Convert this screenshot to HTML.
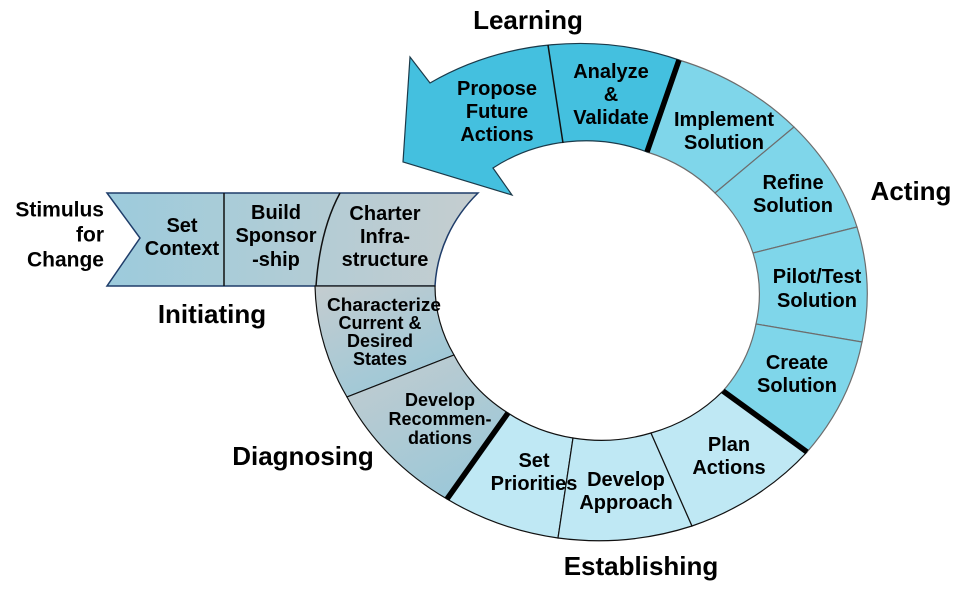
<!DOCTYPE html>
<html><head><meta charset="utf-8"><style>
html,body{margin:0;padding:0;background:#fff;}
svg{display:block;}
text{font-family:"Liberation Sans",Arial,sans-serif;font-weight:bold;fill:#000;}
</style></head><body>
<svg width="977" height="593" viewBox="0 0 977 593" xmlns="http://www.w3.org/2000/svg">
<defs>
<linearGradient id="band" x1="0" y1="0" x2="1" y2="0">
<stop offset="0" stop-color="#9ccbdc"/><stop offset="1" stop-color="#c5cdcf"/>
</linearGradient>
<linearGradient id="diag" x1="0" y1="0" x2="0.6" y2="1">
<stop offset="0" stop-color="#c4cccf"/><stop offset="1" stop-color="#9cc8d8"/>
</linearGradient>
</defs>

<path d="M107,193 L478,193 A160,147 0 0 0 435,286 L107,286 L140,238 Z" fill="url(#band)" stroke="#1f3d6a" stroke-width="1.5"/>
<line x1="224" y1="193" x2="224" y2="286" stroke="#111" stroke-width="1.5"/>
<path d="M340,193 Q320,230 316,286" fill="none" stroke="#111" stroke-width="1.5"/>

<path d="M315,286 A277,249 0 0 0 347,397 L454,355 A160,147 0 0 1 435,286 Z" fill="url(#diag)" stroke="#111" stroke-width="1.2"/>
<path d="M347,397 A277,249 0 0 0 447,499 L508,413 A160,147 0 0 1 454,355 Z" fill="url(#diag)" stroke="#111" stroke-width="1.2"/>

<g fill="#bfe8f4" stroke="#111" stroke-width="1.2">
<path d="M447,499 A277,249 0 0 0 558,538 L573,438 A160,147 0 0 1 508,413 Z"/>
<path d="M558,538 A277,249 0 0 0 692,526 L651,433 A160,147 0 0 1 573,438 Z"/>
<path d="M692,526 A277,249 0 0 0 807,452 L723,391 A160,147 0 0 1 651,433 Z"/>
</g>

<g fill="#7fd6ea" stroke="#6d6d6d" stroke-width="1.2">
<path d="M679,60 A277,249 0 0 1 794,127 L715,193 A160,147 0 0 0 647,152 Z"/>
<path d="M794,127 A277,249 0 0 1 857,227 L753,253 A160,147 0 0 0 715,193 Z"/>
<path d="M857,227 A277,249 0 0 1 862,342 L756,324 A160,147 0 0 0 753,253 Z"/>
<path d="M862,342 A277,249 0 0 1 807,452 L723,391 A160,147 0 0 0 756,324 Z"/>
</g>

<path d="M679,60 A277,249 0 0 0 430,83 L410,57 L403,162 L512,195 L493,168 A160,147 0 0 1 647,152 Z" fill="#44c0df" stroke="#1b3a4a" stroke-width="1.2"/>
<line x1="548" y1="45" x2="563" y2="143" stroke="#111" stroke-width="1.5"/>

<g stroke="#000" stroke-width="5.5">
<line x1="647" y1="152" x2="679" y2="60"/>
<line x1="723" y1="391" x2="807" y2="452"/>
<line x1="508" y1="413" x2="447" y2="499"/>
</g>

<g font-size="26">
<text x="528" y="29" text-anchor="middle">Learning</text>
<text x="911" y="200" text-anchor="middle">Acting</text>
<text x="212" y="323" text-anchor="middle">Initiating</text>
<text x="303" y="465" text-anchor="middle">Diagnosing</text>
<text x="641" y="575" text-anchor="middle">Establishing</text>
</g>

<g font-size="21" dominant-baseline="central">
<text x="104" y="210" text-anchor="end">Stimulus</text>
<text x="104" y="235" text-anchor="end">for</text>
<text x="104" y="260" text-anchor="end">Change</text>
</g>

<g font-size="20" text-anchor="middle" dominant-baseline="central">
<text x="497" y="89">Propose</text><text x="497" y="112">Future</text><text x="497" y="135">Actions</text>
<text x="611" y="72">Analyze</text><text x="611" y="95">&amp;</text><text x="611" y="118">Validate</text>
<text x="724" y="120">Implement</text><text x="724" y="143">Solution</text>
<text x="793" y="183">Refine</text><text x="793" y="206">Solution</text>
<text x="817" y="277">Pilot/Test</text><text x="817" y="301">Solution</text>
<text x="797" y="363">Create</text><text x="797" y="386">Solution</text>
<text x="729" y="445">Plan</text><text x="729" y="468">Actions</text>
<text x="626" y="480">Develop</text><text x="626" y="503">Approach</text>
<text x="534" y="461">Set</text><text x="534" y="484">Priorities</text>
<text x="182" y="226">Set</text><text x="182" y="249">Context</text>
<text x="276" y="213">Build</text><text x="276" y="236">Sponsor</text><text x="276" y="260">-ship</text>
<text x="385" y="214">Charter</text><text x="385" y="237">Infra-</text><text x="385" y="260">structure</text>
</g>
<g font-size="18" text-anchor="middle" dominant-baseline="central">
<text x="440" y="400">Develop</text><text x="440" y="419">Recommen-</text><text x="440" y="438">dations</text>
<text x="384" y="305" textLength="114" lengthAdjust="spacingAndGlyphs">Characterize</text><text x="380" y="323">Current &amp;</text><text x="380" y="341">Desired</text><text x="380" y="359">States</text>
</g>
</svg>
</body></html>
